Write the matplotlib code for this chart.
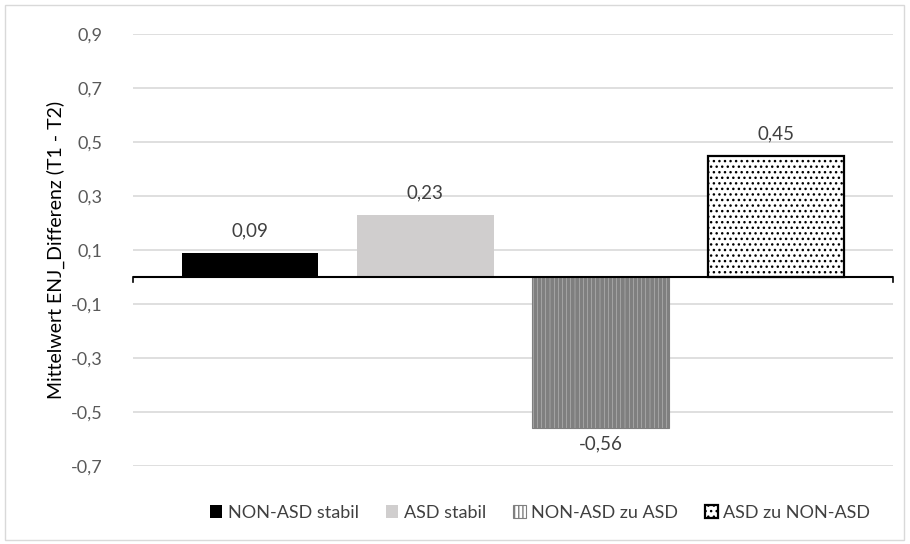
import matplotlib
matplotlib.use("Agg")
import matplotlib.pyplot as plt
from matplotlib.patches import Rectangle, Patch

plt.rcParams['font.family'] = ['Lato', 'DejaVu Sans']
plt.rcParams['hatch.color'] = 'black'

categories = ["NON-ASD stabil", "ASD stabil", "NON-ASD zu ASD", "ASD zu NON-ASD"]
values = [0.09, 0.23, -0.56, 0.45]
y_ticks = [-0.7, -0.5, -0.3, -0.1, 0.1, 0.3, 0.5, 0.7, 0.9]

faces = ['black', '#D0CECE', 'white', 'white']
hatches = [None, None, '||||', '...']
edges = ['black', '#D0CECE', '#7f7f7f', 'black']
lws = [0, 0, 0.8, 1.6]
hatch_lws = [1.0, 1.0, 2.8, 1.0]


def de(v, nd):
    return f"{v:.{nd}f}".replace('.', ',')


fig = plt.figure(figsize=(9.10, 5.44), dpi=100)
ax = fig.add_axes([133 / 910, 1 - 466 / 544, 760 / 910, 432 / 544])

# light outer frame like the Excel chart area
fig.add_artist(Rectangle((5 / 910, 4 / 544), 899 / 910, 535 / 544,
                         transform=fig.transFigure, fill=False,
                         edgecolor='#d9d9d9', linewidth=1))

x = list(range(len(categories)))
for i, v in enumerate(values):
    plt.rcParams['hatch.linewidth'] = hatch_lws[i]
    ax.bar(x[i], v, width=0.78, color=faces[i], hatch=hatches[i],
           edgecolor=edges[i], linewidth=lws[i], zorder=3)

for i, v in enumerate(values):
    off = 0.05 if v >= 0 else -0.025
    ax.text(x[i], v + off, de(v, 2), ha='center',
            va='bottom' if v >= 0 else 'top', fontsize=13.5, color='#404040')

ax.set_xlim(-0.667, 3.667)
ax.set_ylim(-0.7, 0.9)
ax.set_yticks(y_ticks)
ax.set_yticklabels([de(t, 1) for t in y_ticks])
ax.set_xticks([])
ax.grid(axis='y', color='#d9d9d9', linewidth=1.2, zorder=0)
ax.tick_params(axis='y', length=0, labelsize=13, labelcolor='#595959', pad=22)
for s in ax.spines.values():
    s.set_visible(False)

ax.axhline(0, color='black', linewidth=1.5, zorder=4)
ax.plot([-0.667, -0.667], [0, -0.02], color='black', linewidth=1.2, clip_on=False, zorder=4)
ax.plot([3.667, 3.667], [0, -0.02], color='black', linewidth=1.2, clip_on=False, zorder=4)

ax.set_ylabel("Mittelwert ENJ_Differenz (T1 - T2)", fontsize=14, color='black', labelpad=4)

handles = []
for i in range(len(categories)):
    plt.rcParams['hatch.linewidth'] = min(hatch_lws[i], 1.2)
    handles.append(Patch(facecolor=faces[i], hatch=hatches[i], edgecolor=edges[i],
                         linewidth=lws[i]))
fig.legend(handles, categories, loc='center', bbox_to_anchor=(540 / 910, 1 - 513 / 544),
           ncol=4, frameon=False, fontsize=13, handlelength=0.7, handleheight=0.7,
           handletextpad=0.3, columnspacing=1.5, labelcolor='#404040')

fig.savefig("out.png", dpi=100)
